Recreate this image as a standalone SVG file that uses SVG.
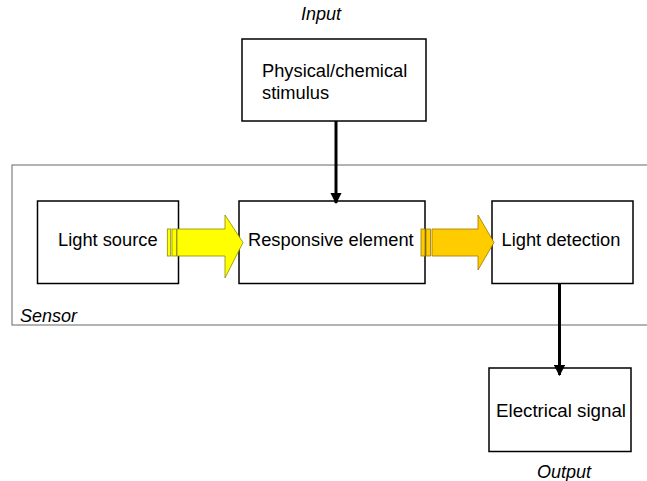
<svg xmlns="http://www.w3.org/2000/svg" width="647" height="481" viewBox="0 0 647 481">
<style>
.box{fill:#fff;stroke:#000;stroke-width:1.5}
.t{font-family:"Liberation Sans",Arial,sans-serif;font-size:18.3px;fill:#000}
.i{font-family:"Liberation Sans",Arial,sans-serif;font-size:18px;font-style:italic;fill:#000}
.conn{stroke:#000;stroke-width:3;fill:none}
</style>
<defs>
<marker id="ah" viewBox="0 0 10 10" refX="9" refY="5" markerWidth="3.8" markerHeight="3.8" orient="auto" markerUnits="strokeWidth">
<path d="M0,0 L10,5 L0,10 z" fill="#000"/>
</marker>
</defs>
<rect width="647" height="481" fill="#fff"/>
<g id="sensor">
<rect x="12" y="165" width="645" height="160" fill="none" stroke="#666" stroke-width="1"/>
<text class="i" x="20" y="322">Sensor</text>
</g>
<g id="input-label"><text class="i" x="301" y="20">Input</text></g>
<g id="output-label"><text class="i" x="537" y="478">Output</text></g>
<g id="stimulus">
<rect class="box" x="242" y="39" width="184" height="82"/>
<text class="t" x="262" y="76.5">Physical/chemical</text>
<text class="t" x="262" y="98.5">stimulus</text>
</g>
<g id="light-source">
<rect class="box" x="37.5" y="201" width="141" height="82.5"/>
<text class="t" x="58" y="246">Light source</text>
</g>
<g id="responsive">
<rect class="box" x="239" y="201" width="186" height="82.5"/>
<text class="t" x="248" y="246">Responsive element</text>
</g>
<g id="light-detection">
<rect class="box" x="492" y="201" width="141" height="82.5"/>
<text class="t" x="501.5" y="246">Light detection</text>
</g>
<g id="electrical">
<rect class="box" x="489" y="368" width="142" height="83.5"/>
<text class="t" x="496" y="417" textLength="130" lengthAdjust="spacingAndGlyphs">Electrical signal</text>
</g>
<g id="connectors">
<line class="conn" x1="336" y1="121" x2="336" y2="203" marker-end="url(#ah)"/>
<line class="conn" x1="559.5" y1="284" x2="559.5" y2="375" marker-end="url(#ah)"/>
<g id="light-arrow-1" fill="#ffff00" stroke="#8c8c00" stroke-width="0.8">
<rect x="167.3" y="229" width="3.4" height="27"/>
<rect x="172" y="229" width="4.5" height="27"/>
<polygon points="177,229 225,229 225,215 243,242.5 225,278 225,256 177,256"/>
</g>
<g id="light-arrow-2" fill="#ffcc00" stroke="#9a7a00" stroke-width="0.8">
<rect x="421" y="229" width="4" height="27"/>
<rect x="426" y="229" width="4.5" height="27"/>
<polygon points="432,229 478,229 478,215 494,242.5 478,270 478,256 432,256"/>
</g>
</g>
</svg>
